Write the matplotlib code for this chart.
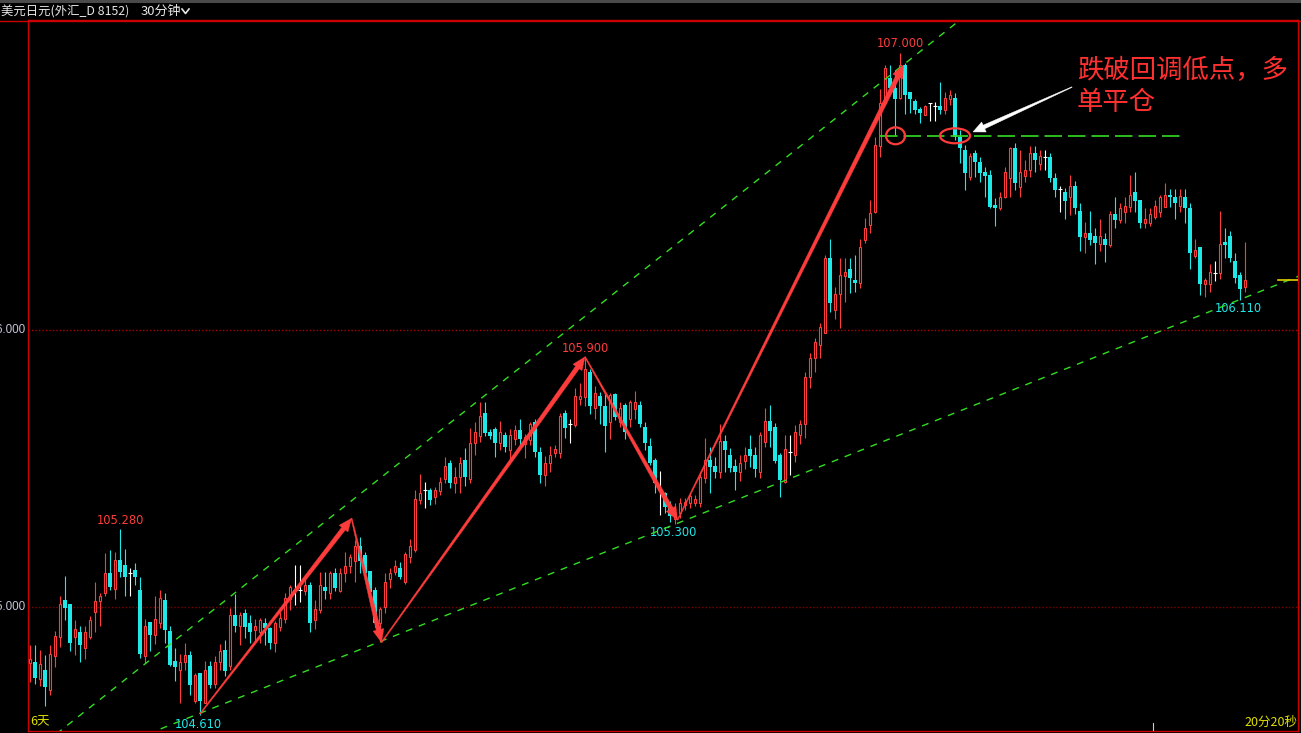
import numpy as np
import matplotlib.pyplot as plt
from matplotlib.lines import Line2D
from matplotlib.patches import Ellipse, Rectangle, Polygon
from matplotlib.transforms import IdentityTransform

plt.rcParams['font.family'] = ['Noto Sans CJK SC', 'DejaVu Sans']

# USD/JPY 30-minute bars (open, close, high, low)
opens = [
    104.798, 104.802, 104.740, 104.774, 104.700, 104.822, 104.890, 105.024, 105.012, 104.892,
    104.911, 104.851, 104.892, 104.982, 105.020, 105.050, 105.124, 105.066, 105.170, 105.152,
    105.124, 105.132, 105.062, 104.822, 104.944, 104.900, 104.942, 105.024, 104.912, 104.804,
    104.772, 104.800, 104.826, 104.660, 104.762, 104.654, 104.786, 104.722, 104.800, 104.844,
    104.788, 104.972, 104.930, 104.977, 104.943, 104.917, 104.909, 104.941, 104.923, 104.869,
    104.929, 104.955, 105.028, 105.061, 105.061, 105.059, 105.079, 104.953, 104.989, 105.071,
    105.049, 105.122, 105.059, 105.122, 105.149, 105.166, 105.220, 105.188, 105.130, 105.061,
    104.941, 105.001, 105.100, 105.128, 105.142, 105.089, 105.179, 105.206, 105.386, 105.422,
    105.422, 105.398, 105.420, 105.461, 105.519, 105.449, 105.471, 105.531, 105.461, 105.591,
    105.619, 105.702, 105.631, 105.641, 105.591, 105.621, 105.567, 105.607, 105.639, 105.589,
    105.603, 105.667, 105.558, 105.477, 105.519, 105.555, 105.557, 105.702, 105.659, 105.657,
    105.750, 105.759, 105.847, 105.717, 105.762, 105.727, 105.669, 105.769, 105.669, 105.729,
    105.679, 105.715, 105.729, 105.649, 105.581, 105.531, 105.422, 105.410, 105.362, 105.316,
    105.338, 105.368, 105.377, 105.377, 105.377, 105.467, 105.531, 105.509, 105.489, 105.601,
    105.549, 105.509, 105.489, 105.528, 105.571, 105.549, 105.489, 105.597, 105.671, 105.651,
    105.549, 105.452, 105.560, 105.549, 105.621, 105.661, 105.829, 105.898, 105.946, 105.988,
    106.259, 106.072, 106.130, 106.195, 106.219, 106.181, 106.170, 106.325, 106.379, 106.427,
    106.664, 106.818, 106.909, 106.872, 106.836, 106.957, 106.860, 106.827, 106.797, 106.776,
    106.818, 106.809, 106.809, 106.794, 106.833, 106.836, 106.698, 106.650, 106.554, 106.638,
    106.608, 106.571, 106.559, 106.451, 106.439, 106.481, 106.547, 106.656, 106.517, 106.556,
    106.578, 106.638, 106.599, 106.626, 106.626, 106.547, 106.508, 106.499, 106.479, 106.520,
    106.431, 106.337, 106.351, 106.339, 106.310, 106.328, 106.307, 106.419, 106.397, 106.427,
    106.445, 106.499, 106.469, 106.387, 106.387, 106.407, 106.427, 106.445, 106.487, 106.479,
    106.448, 106.479, 106.439, 106.267, 106.298, 106.166, 106.166, 106.207, 106.207, 106.319,
    106.339, 106.249, 106.198, 106.156,
]
closes = [
    104.812, 104.742, 104.793, 104.710, 104.832, 104.894, 105.010, 104.998, 104.870, 104.919,
    104.862, 104.911, 104.954, 105.022, 105.039, 105.122, 105.072, 105.170, 105.128, 105.110,
    105.124, 105.108, 104.829, 104.932, 104.900, 104.956, 105.032, 104.918, 104.790, 104.782,
    104.802, 104.826, 104.720, 104.754, 104.660, 104.772, 104.720, 104.802, 104.842, 104.770,
    104.972, 104.930, 104.970, 104.927, 104.909, 104.931, 104.953, 104.923, 104.869, 104.941,
    104.961, 105.031, 105.071, 105.061, 105.061, 105.079, 104.941, 104.992, 105.079, 105.059,
    105.122, 105.067, 105.122, 105.149, 105.179, 105.220, 105.166, 105.122, 105.053, 104.941,
    104.992, 105.089, 105.122, 105.149, 105.110, 105.191, 105.220, 105.390, 105.410, 105.422,
    105.386, 105.422, 105.450, 105.509, 105.446, 105.470, 105.521, 105.468, 105.591, 105.631,
    105.690, 105.629, 105.619, 105.591, 105.631, 105.579, 105.621, 105.639, 105.607, 105.615,
    105.661, 105.558, 105.477, 105.519, 105.549, 105.569, 105.690, 105.645, 105.659, 105.762,
    105.762, 105.858, 105.727, 105.771, 105.727, 105.655, 105.765, 105.687, 105.717, 105.631,
    105.739, 105.739, 105.661, 105.591, 105.521, 105.447, 105.422, 105.360, 105.328, 105.338,
    105.377, 105.380, 105.401, 105.389, 105.470, 105.531, 105.507, 105.489, 105.601, 105.567,
    105.501, 105.489, 105.519, 105.549, 105.545, 105.497, 105.621, 105.671, 105.635, 105.528,
    105.458, 105.569, 105.560, 105.633, 105.661, 105.831, 105.898, 105.958, 106.010, 106.259,
    106.099, 106.130, 106.199, 106.211, 106.187, 106.169, 106.300, 106.367, 106.421, 106.668,
    106.818, 106.945, 106.872, 106.833, 106.957, 106.848, 106.833, 106.794, 106.785, 106.809,
    106.818, 106.809, 106.794, 106.836, 106.848, 106.698, 106.656, 106.568, 106.628, 106.608,
    106.568, 106.556, 106.445, 106.439, 106.481, 106.571, 106.656, 106.529, 106.571, 106.578,
    106.638, 106.614, 106.628, 106.626, 106.547, 106.505, 106.508, 106.467, 106.520, 106.439,
    106.337, 106.349, 106.325, 106.315, 106.339, 106.307, 106.419, 106.397, 106.439, 106.448,
    106.487, 106.467, 106.387, 106.400, 106.419, 106.448, 106.479, 106.487, 106.479, 106.457,
    106.484, 106.439, 106.277, 106.289, 106.166, 106.180, 106.208, 106.207, 106.310, 106.307,
    106.259, 106.186, 106.147, 106.180,
]
highs = [
    104.864, 104.862, 104.844, 104.826, 104.862, 104.912, 105.038, 105.112, 105.012, 104.954,
    104.932, 104.930, 104.966, 105.092, 105.050, 105.194, 105.206, 105.200, 105.280, 105.208,
    105.140, 105.160, 105.110, 104.956, 104.944, 105.040, 105.062, 105.050, 104.930, 104.852,
    104.832, 104.870, 104.842, 104.762, 104.762, 104.806, 104.804, 104.822, 104.868, 104.882,
    104.996, 105.048, 104.982, 104.991, 104.971, 104.955, 104.961, 104.959, 104.929, 104.951,
    104.983, 105.049, 105.079, 105.152, 105.152, 105.100, 105.089, 105.025, 105.128, 105.128,
    105.131, 105.140, 105.140, 105.200, 105.191, 105.242, 105.251, 105.200, 105.130, 105.073,
    105.001, 105.124, 105.142, 105.170, 105.161, 105.200, 105.244, 105.422, 105.479, 105.453,
    105.428, 105.434, 105.468, 105.540, 105.531, 105.504, 105.543, 105.573, 105.645, 105.669,
    105.741, 105.741, 105.641, 105.649, 105.671, 105.633, 105.641, 105.657, 105.679, 105.625,
    105.669, 105.678, 105.576, 105.545, 105.581, 105.585, 105.702, 105.711, 105.677, 105.792,
    105.807, 105.900, 105.859, 105.799, 105.775, 105.769, 105.771, 105.771, 105.739, 105.735,
    105.747, 105.780, 105.745, 105.669, 105.609, 105.537, 105.492, 105.416, 105.384, 105.374,
    105.392, 105.392, 105.410, 105.404, 105.489, 105.609, 105.579, 105.543, 105.661, 105.621,
    105.573, 105.533, 105.549, 105.579, 105.621, 105.579, 105.633, 105.717, 105.729, 105.663,
    105.555, 105.621, 105.621, 105.657, 105.675, 105.850, 105.916, 105.970, 106.024, 106.271,
    106.327, 106.156, 106.259, 106.259, 106.259, 106.271, 106.330, 106.403, 106.469, 106.698,
    106.869, 106.957, 106.957, 106.939, 107.000, 106.963, 106.860, 106.833, 106.806, 106.812,
    106.818, 106.824, 106.897, 106.860, 106.866, 106.857, 106.722, 106.668, 106.638, 106.650,
    106.626, 106.590, 106.578, 106.475, 106.499, 106.590, 106.662, 106.676, 106.650, 106.614,
    106.664, 106.664, 106.650, 106.650, 106.638, 106.566, 106.520, 106.511, 106.560, 106.538,
    106.457, 106.391, 106.431, 106.367, 106.401, 106.349, 106.431, 106.479, 106.457, 106.481,
    106.559, 106.572, 106.469, 106.439, 106.439, 106.469, 106.487, 106.529, 106.508, 106.508,
    106.508, 106.508, 106.457, 106.327, 106.298, 106.186, 106.238, 106.249, 106.431, 106.369,
    106.357, 106.277, 106.210, 106.319,
]
lows = [
    104.728, 104.722, 104.714, 104.642, 104.682, 104.784, 104.856, 104.952, 104.840, 104.828,
    104.800, 104.814, 104.884, 104.911, 104.930, 105.038, 105.060, 105.030, 105.110, 105.039,
    105.038, 105.079, 104.815, 104.796, 104.840, 104.868, 104.924, 104.870, 104.786, 104.732,
    104.654, 104.772, 104.682, 104.652, 104.610, 104.652, 104.708, 104.708, 104.772, 104.750,
    104.774, 104.910, 104.864, 104.889, 104.869, 104.872, 104.869, 104.863, 104.847, 104.839,
    104.915, 104.941, 104.989, 105.007, 105.019, 105.043, 104.909, 104.919, 104.977, 105.029,
    105.029, 105.059, 105.055, 105.089, 105.122, 105.089, 105.122, 105.110, 105.025, 104.929,
    104.875, 104.977, 105.067, 105.116, 105.100, 105.083, 105.160, 105.200, 105.372, 105.359,
    105.368, 105.371, 105.404, 105.446, 105.428, 105.410, 105.410, 105.438, 105.446, 105.549,
    105.597, 105.619, 105.607, 105.540, 105.567, 105.561, 105.533, 105.585, 105.573, 105.537,
    105.585, 105.543, 105.449, 105.438, 105.489, 105.540, 105.537, 105.609, 105.591, 105.649,
    105.729, 105.727, 105.697, 105.679, 105.661, 105.558, 105.607, 105.675, 105.651, 105.607,
    105.651, 105.679, 105.649, 105.567, 105.513, 105.410, 105.332, 105.338, 105.308, 105.300,
    105.320, 105.350, 105.356, 105.365, 105.360, 105.446, 105.410, 105.465, 105.465, 105.489,
    105.489, 105.422, 105.456, 105.497, 105.507, 105.470, 105.465, 105.579, 105.579, 105.519,
    105.398, 105.446, 105.476, 105.525, 105.588, 105.609, 105.789, 105.850, 105.898, 105.988,
    106.066, 106.038, 106.008, 106.102, 106.132, 106.138, 106.150, 106.313, 106.349, 106.421,
    106.626, 106.812, 106.854, 106.704, 106.833, 106.780, 106.782, 106.780, 106.746, 106.776,
    106.756, 106.756, 106.780, 106.780, 106.812, 106.686, 106.602, 106.505, 106.542, 106.554,
    106.535, 106.481, 106.439, 106.375, 106.433, 106.475, 106.481, 106.505, 106.481, 106.535,
    106.551, 106.571, 106.578, 106.578, 106.535, 106.481, 106.427, 106.400, 106.415, 106.419,
    106.286, 106.277, 106.307, 106.237, 106.286, 106.247, 106.301, 106.367, 106.385, 106.387,
    106.427, 106.427, 106.367, 106.367, 106.375, 106.400, 106.407, 106.443, 106.445, 106.400,
    106.427, 106.387, 106.219, 106.259, 106.126, 106.118, 106.138, 106.178, 106.183, 106.259,
    106.247, 106.168, 106.110, 106.138,
]

# hand-drawn swing arrows (bar index, price)
swing_i = [34, 64.3, 70.3, 111, 129.5, 174.7]
swing_p = [104.614, 105.320, 104.872, 105.903, 105.314, 106.957]

# white pointer arrow (tail -> head)
pointer_i = [208.4, 188.6]
pointer_p = [106.877, 106.715]

# marked highs / lows
mark_hi = [18, 111, 174]
mark_lo = [34, 129, 242]

# channel lines (bar index, price)
upper_i = [6, 186]
upper_p = [104.552, 107.119]
lower_i = [70, 242]
lower_p = [104.875, 106.110]

# breakdown level and circles
break_level = 106.701
break_i = [170, 230.2]
circle_i = [173.1, 185]
circle_w = [3.8, 6.0]
circle_h = [0.061, 0.054]

grid_levels = [106.0, 105.0]

RED = '#ff3c3c'
CYAN = '#1ee8e8'
GREEN = '#33dd22'
W, H = 1301, 733

o = np.array(opens)
c = np.array(closes)
h = np.array(highs)
l = np.array(lows)
x = np.arange(len(o))
up = c > o
dn = c < o
dj = c == o

fig = plt.figure(figsize=(W / 100, H / 100), dpi=100, facecolor='black')
ax = fig.add_axes([28 / W, 2 / H, 1270 / W, 711 / H], facecolor='black')
ax.set_xlim(-0.4, 253.6)
ax.set_ylim(104.5523, 107.1191)
ax.set_xticks([])
ax.set_yticks([])
for s in ax.spines.values():
    s.set_color('#cc0000')
    s.set_linewidth(1)

# grid lines
ax.axhline(grid_levels[0], color='#b00000', lw=1, ls=(0, (1, 1.5)), zorder=1)
ax.axhline(grid_levels[1], color='#800000', lw=1, ls=(0, (1, 1.5)), zorder=1)

# candles
ax.vlines(x[up], l[up], h[up], color=RED, lw=0.8, zorder=2)
ax.vlines(x[dn], l[dn], h[dn], color=CYAN, lw=0.8, zorder=2)
ax.vlines(x[dj], l[dj], h[dj], color='white', lw=0.8, zorder=2)
ax.bar(x[up], c[up] - o[up], bottom=o[up], width=0.58, facecolor='black',
       edgecolor=RED, linewidth=0.8, zorder=3)
ax.bar(x[dn], o[dn] - c[dn], bottom=c[dn], width=0.74, color=CYAN, lw=0, zorder=3)
ax.hlines(o[dj], x[dj] - 0.38, x[dj] + 0.38, color='white', lw=0.8, zorder=3)

# channel lines
su = (upper_p[1] - upper_p[0]) / (upper_i[1] - upper_i[0])
sl = (lower_p[1] - lower_p[0]) / (lower_i[1] - lower_i[0])
xx = np.array([-5, 260])
ax.plot(xx, upper_p[0] + su * (xx - upper_i[0]), color=GREEN, lw=1, ls=(0, (5, 5)), zorder=4)
ax.plot(xx, lower_p[0] + sl * (xx - lower_i[0]), color=GREEN, lw=1, ls=(0, (5, 5)), zorder=4)

# breakdown level
ax.plot(break_i, [break_level] * 2, color=GREEN, lw=1.2, ls=(0, (10.5, 3.6)), zorder=4)
for ci, cw, ch in zip(circle_i, circle_w, circle_h):
    ax.add_patch(Ellipse((ci, break_level), cw, ch, fill=False, edgecolor=RED, lw=1.6, zorder=6))


def taper_arrow(p0, p1, color, w0=1.0, w1=4.5, hl=13, hw=11):
    # arrow that widens from tail to head, built in pixel space
    a = ax.transData.transform(p0)
    b = ax.transData.transform(p1)
    d = b - a
    u = d / np.hypot(*d)
    n = np.array([-u[1], u[0]])
    base = b - u * hl
    pts = [a + n * w0 / 2, base + n * w1 / 2, base + n * hw / 2, b,
           base - n * hw / 2, base - n * w1 / 2, a - n * w0 / 2]
    ax.add_patch(Polygon(pts, closed=True, facecolor=color, edgecolor=color, lw=0.3,
                         transform=IdentityTransform(), zorder=5))


for k in range(len(swing_i) - 1):
    taper_arrow((swing_i[k], swing_p[k]), (swing_i[k + 1], swing_p[k + 1]), RED)

taper_arrow((pointer_i[0], pointer_p[0]), (pointer_i[1], pointer_p[1]), 'white',
            w0=0.6, w1=4.0, hl=12, hw=11)

# high / low labels
for i in mark_hi:
    ax.annotate(f'{h[i]:.3f}', (i, h[i]), xytext=(0, 9), textcoords='offset pixels',
                ha='center', va='center', color=RED, fontsize=8.3, family='DejaVu Sans')
for i in mark_lo:
    ax.annotate(f'{l[i]:.3f}', (i, l[i]), xytext=(-2, -9), textcoords='offset pixels',
                ha='center', va='center', color=CYAN, fontsize=8.3, family='DejaVu Sans')

# last price marker and time tick
ax.plot([249.6, 253.6], [c[-1]] * 2, color='#e0d000', lw=1.2, zorder=4)
ax.plot([224.6, 224.6], [104.5523, 104.581], color='#cccccc', lw=0.8, zorder=4)

# header
fig.add_artist(Rectangle((0, 1 - 2.5 / H), 1, 2.5 / H, transform=fig.transFigure,
                         color='#4a4a4a', lw=0))
fig.add_artist(Line2D([0, 1], [1 - 20.5 / H] * 2, color='#cc0000', lw=1))
fig.text(1 / W, 1 - 11.5 / H, '美元日元(外汇_D 8152)', color='#e6e6e6', fontsize=8.9, va='center')
fig.text(141 / W, 1 - 11.5 / H, '30分钟', color='#e6e6e6', fontsize=9.4, va='center')
fig.add_artist(Line2D([182 / W, 185.5 / W, 189 / W], [1 - 9 / H, 1 - 13.5 / H, 1 - 9 / H],
                      color='#e6e6e6', lw=1.2))

# y labels (cut at the left edge, as in the terminal)
for lv in grid_levels:
    ax.annotate(f'{lv:.3f}', (0, lv), xycoords=('figure pixels', 'data'),
                xytext=(25, 0), textcoords=('figure pixels', 'offset pixels'),
                ha='right', va='center', color='#c4c4d8', fontsize=8.4,
                family='Liberation Sans', annotation_clip=False)

fig.text(30 / W, 1 - 722 / H, '6天', color='#e0e000', fontsize=9, va='center')
fig.text(1297 / W, 1 - 722 / H, '20分20秒', color='#e0e000', fontsize=9, va='center', ha='right')

fig.text(1077 / W, 1 - 70 / H, '跌破回调低点，多', color='#ff3030', fontsize=19,
         va='center', fontweight='light')
fig.text(1077 / W, 1 - 103 / H, '单平仓', color='#ff3030', fontsize=19,
         va='center', fontweight='light')

fig.savefig('out.png', dpi=100, facecolor='black')
